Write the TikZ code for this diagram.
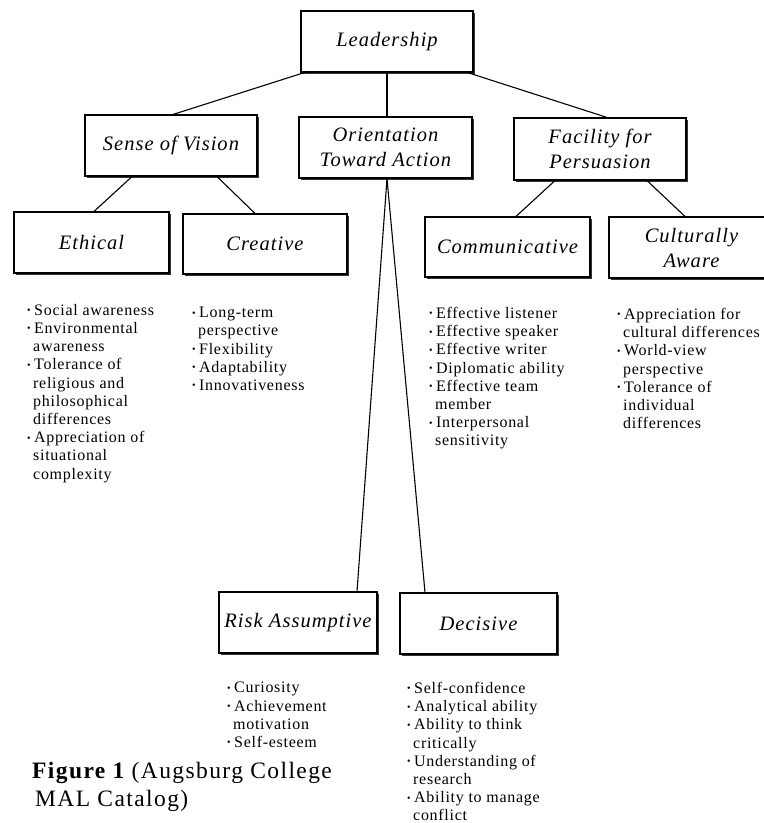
\documentclass[tikz,border=0pt]{standalone}
\usepackage{fontspec}
\setmainfont{Liberation Serif}
\newfontfamily\boxfont[LetterSpace=5]{Liberation Serif}
\newfontfamily\listfont[LetterSpace=4.5]{Liberation Serif}
\newfontfamily\capfont[LetterSpace=6]{Liberation Serif}
\usetikzlibrary{shadows}
\newcommand\bu{\makebox[7pt][l]{\raisebox{1.6pt}{\fontsize{10}{10}\selectfont\textbullet}}}
\newcommand\ind{\hspace*{6pt}}
\begin{document}
\begin{tikzpicture}[x=1pt,y=-1pt,
  box/.style={draw,line width=1.1pt,fill=white,inner sep=0pt,align=center,
    font=\boxfont\itshape\fontsize{20.5}{25}\selectfont,
    drop shadow={shadow xshift=2.2pt,shadow yshift=-2.2pt,fill=black!80,opacity=1}},
  lst/.style={anchor=north west,inner sep=0pt,align=left,
    font=\listfont\fontsize{16}{18.2}\selectfont},
  conn/.style={line width=1.1pt}]
\useasboundingbox (0,0) rectangle (764,823);
\fill[white] (0,0) rectangle (764,823);
% boxes
\node[box,minimum width=172,minimum height=61] (lead) at (387,41.5) {Leadership};
\node[box,minimum width=172,minimum height=61] (sense) at (171,145.5) {Sense of Vision};
\node[box,minimum width=173,minimum height=61] (orient) at (385.5,147.5) {Orientation\\Toward Action};
\node[box,minimum width=172,minimum height=62] (fac) at (600,149) {Facility for\\Persuasion};
\node[box,minimum width=155,minimum height=61] (eth) at (91.5,242.5) {Ethical};
\node[box,minimum width=164,minimum height=60] (cre) at (265,244) {Creative};
\node[box,minimum width=165,minimum height=60] (com) at (507.5,247) {Communicative};
\node[box,minimum width=165,minimum height=61] (cul) at (691.5,247.5) {Culturally\\Aware};
\node[box,minimum width=158,minimum height=61] (risk) at (298,622.5) {Risk Assumptive};
\node[box,minimum width=157,minimum height=61] (dec) at (478.5,623.5) {Decisive};
% connectors
\draw[conn] ([xshift=4pt]lead.south west) -- ([xshift=2pt]sense.north);
\draw[conn] (lead.south) -- (lead.south |- orient.north);
\draw[conn] ([xshift=-6pt]lead.south east) -- ([xshift=7pt]fac.north);
\draw[conn] ([xshift=-39pt]sense.south) -- ([xshift=2.5pt]eth.north);
\draw[conn] ([xshift=46pt]sense.south) -- ([xshift=-10pt]cre.north);
\draw[conn] ([xshift=-45pt]fac.south) -- ([xshift=8.5pt]com.north);
\draw[conn] ([xshift=47pt]fac.south) -- ([xshift=-6.5pt]cul.north);
\draw[conn] ([xshift=1.5pt]orient.south) -- ([xshift=59pt]risk.north);
\draw[conn] ([xshift=1.5pt]orient.south) -- ([xshift=-53.5pt]dec.north);
% lists
\node[lst] (leth) at (27,304) {\bu Social awareness\\\bu Environmental\\\ind awareness\\\bu Tolerance of\\\ind religious and\\\ind philosophical\\\ind differences\\\bu Appreciation of\\\ind situational\\\ind complexity};
\node[lst] (lcre) at (192,307) {\bu Long-term\\\ind perspective\\\bu Flexibility\\\bu Adaptability\\\bu Innovativeness};
\node[lst] (lcom) at (429,307) {\bu Effective listener\\\bu Effective speaker\\\bu Effective writer\\\bu Diplomatic ability\\\bu Effective team\\\ind member\\\bu Interpersonal\\\ind sensitivity};
\node[lst] (lcul) at (617,308) {\bu Appreciation for\\\ind cultural differences\\\bu World-view\\\ind perspective\\\bu Tolerance of\\\ind individual\\\ind differences};
\node[lst] (lrisk) at (227,682) {\bu Curiosity\\\bu Achievement\\\ind motivation\\\bu Self-esteem};
\node[lst] (ldec) at (407,682) {\bu Self-confidence\\\bu Analytical ability\\\bu Ability to think\\\ind critically\\\bu Understanding of\\\ind research\\\bu Ability to manage\\\ind conflict};
% caption
\node[anchor=north west,inner sep=0pt,align=left,font=\capfont\fontsize{23.5}{28}\selectfont] (cap) at (32,762) {{\bfseries Figure 1} (Augsburg College\\\hspace*{3pt}MAL Catalog)};
\end{tikzpicture}
\end{document}
